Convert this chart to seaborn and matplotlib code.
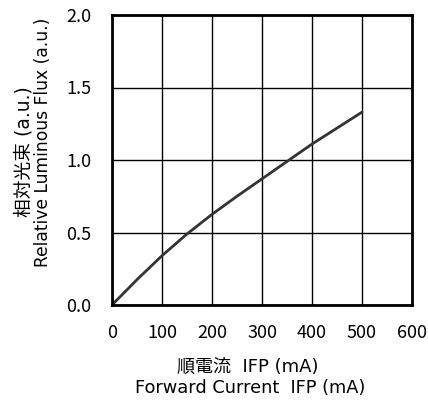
import matplotlib
matplotlib.use("Agg")
import matplotlib.pyplot as plt
import seaborn as sns
import pandas as pd

current = [0, 50, 100, 150, 200, 250, 300, 350, 400, 450, 500]
flux = [0.0, 0.175, 0.34, 0.49, 0.625, 0.75, 0.87, 0.99, 1.11, 1.22, 1.33]
xticks = [0, 100, 200, 300, 400, 500, 600]
yticks = [0.0, 0.5, 1.0, 1.5, 2.0]

sns.set_theme(style="white")
plt.rcParams['font.family'] = ['DejaVu Sans', 'Noto Sans CJK JP']

fig = plt.figure(figsize=(4.28, 4.03), dpi=100)
ax = fig.add_axes([112/428, 1-305/403, 300/428, 290/403])

df = pd.DataFrame({"I": current, "F": flux})
sns.lineplot(data=df, x="I", y="F", ax=ax, color="#333333", linewidth=2)

ax.set_xlim(0, 600)
ax.set_ylim(0, 2.0)
ax.set_xticks(xticks)
ax.set_yticks(yticks)
tick_font = dict(fontsize=13, family=['Noto Sans CJK JP'])
ax.set_xticklabels([str(t) for t in xticks], **tick_font)
ax.set_yticklabels([f"{t:.1f}" for t in yticks], **tick_font)
ax.grid(True, color="black", linewidth=1)
ax.tick_params(axis="both", length=0, colors="black")
ax.tick_params(axis="x", pad=14)
ax.tick_params(axis="y", pad=15)
for s in ax.spines.values():
    s.set_color("black")
    s.set_linewidth(2)
ax.set_xlabel("")
ax.set_ylabel("")

fig.text(248/428, 1-367/403, "順電流  IFP (mA)", ha="center", va="center", fontsize=13, color="black")
fig.text(250/428, 1-388/403, "Forward Current  IFP (mA)", ha="center", va="center", fontsize=12.8, color="black")
fig.text(24/428, 1-152/403, "相対光束 (a.u.)", ha="center", va="center", rotation=90, fontsize=13.5, color="black")
fig.text(43/428, 1-142/403, "Relative Luminous Flux (a.u.)", ha="center", va="center", rotation=90, fontsize=12.3, color="black")

fig.savefig("out.png", dpi=100)
